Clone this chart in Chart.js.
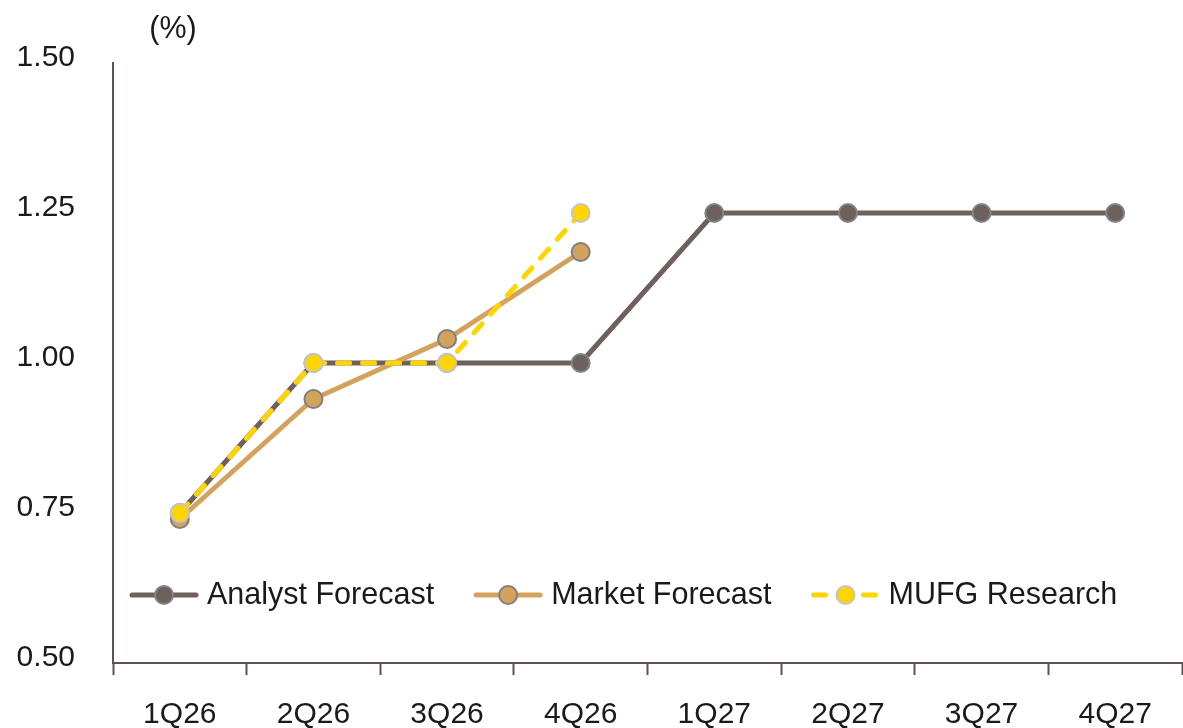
<!DOCTYPE html>
<html>
<head>
<meta charset="utf-8">
<script src="https://cdn.jsdelivr.net/npm/chart.js@4/dist/chart.umd.min.js"></script>
<style>
  body { margin: 0; background: #fff; overflow: hidden; }
  canvas { display: block; }
</style>
</head>
<body>
<canvas id="rate-chart" width="1183" height="728"></canvas>
<script>
const quarters = ["1Q26", "2Q26", "3Q26", "4Q26", "1Q27", "2Q27", "3Q27", "4Q27"];
const analystForecast = [0.75, 1.0, 1.0, 1.0, 1.25, 1.25, 1.25, 1.25];
const marketForecast = [0.74, 0.94, 1.04, 1.185, null, null, null, null];
const mufgResearch = [0.75, 1.0, 1.0, 1.25, null, null, null, null];
const yTicks = [0.5, 0.75, 1.0, 1.25, 1.5];

const FONT = "'Liberation Sans', Arial, sans-serif";
const TEXT = "#1a1a1a";
const AXIS = "#5e524f";

// legend drawn inside the plot, near the bottom, plus the "(%)" unit label
const insideLegend = {
  id: "insideLegend",
  afterDatasetsDraw(chart) {
    const { ctx, chartArea } = chart;
    let x = chartArea.left + 17;
    const y = chartArea.bottom - 68;
    ctx.save();
    ctx.font = "30.5px " + FONT;
    ctx.textBaseline = "middle";
    ctx.fillStyle = TEXT;
    ctx.textAlign = "center";
    ctx.fillText("(%)", chartArea.left + 60, 30);
    ctx.textAlign = "left";
    chart.data.datasets.forEach((ds) => {
      ctx.strokeStyle = ds.borderColor;
      ctx.lineWidth = ds.borderWidth;
      ctx.lineCap = "round";
      ctx.setLineDash(ds.borderDash || []);
      ctx.beginPath();
      ctx.moveTo(x + 2, y);
      ctx.lineTo(x + 66, y);
      ctx.stroke();
      ctx.setLineDash([]);
      ctx.beginPath();
      ctx.arc(x + 34, y, ds.pointRadius, 0, Math.PI * 2);
      ctx.fillStyle = ds.pointBackgroundColor;
      ctx.fill();
      ctx.lineWidth = ds.pointBorderWidth;
      ctx.strokeStyle = ds.pointBorderColor;
      ctx.stroke();
      ctx.fillStyle = TEXT;
      ctx.fillText(ds.label, x + 77, y + 1);
      x += 77 + ctx.measureText(ds.label).width + 40;
    });
    ctx.restore();
  },
};

function lineSet(label, data, color, pointBorder, order, dash) {
  return {
    label: label,
    data: data,
    borderColor: color,
    backgroundColor: color,
    borderWidth: 5,
    borderDash: dash,
    borderCapStyle: dash ? "round" : "butt",
    pointRadius: 9,
    pointHoverRadius: 9,
    pointBackgroundColor: color,
    pointBorderColor: pointBorder,
    pointBorderWidth: 2,
    spanGaps: false,
    tension: 0,
    order: order,
  };
}

const ctx = document.getElementById("rate-chart").getContext("2d");
new Chart(ctx, {
  type: "line",
  data: {
    labels: quarters,
    datasets: [
      lineSet("Analyst Forecast", analystForecast, "#6d605d", "#858585", 3),
      lineSet("Market Forecast", marketForecast, "#d3a35e", "#7f7f7f", 2),
      lineSet("MUFG Research", mufgResearch, "#ffd500", "#c4c4c4", 1, [12, 13]),
    ],
  },
  options: {
    responsive: false,
    animation: false,
    layout: {
      autoPadding: false, // keep the plot flush with the right edge
      padding: { top: 63, right: 1, left: 0, bottom: 0 },
    },
    plugins: {
      legend: { display: false },
      tooltip: { enabled: false },
    },
    scales: {
      x: {
        offset: true,
        grid: {
          offset: true,
          drawOnChartArea: false,
          drawTicks: true,
          tickLength: 12,
          tickWidth: 2,
          tickColor: AXIS,
        },
        border: { color: AXIS, width: 2 },
        ticks: {
          color: TEXT,
          font: { family: FONT, size: 30 },
          padding: 22,
          maxRotation: 0,
        },
        afterFit: (scale) => {
          scale.height = 65;
          scale.paddingLeft = 0;
          scale.paddingRight = 0;
        },
      },
      y: {
        min: 0.5,
        max: 1.5,
        afterBuildTicks: (scale) => {
          scale.ticks = yTicks.map((v) => ({ value: v }));
        },
        grid: { display: false, drawTicks: false },
        border: { color: AXIS, width: 2 },
        ticks: {
          color: TEXT,
          font: { family: FONT, size: 30 },
          padding: 38,
          labelOffset: -5,
          callback: (value) => Number(value).toFixed(2),
        },
        afterFit: (scale) => { scale.width = 113; },
      },
    },
  },
  plugins: [insideLegend],
});
</script>
</body>
</html>
